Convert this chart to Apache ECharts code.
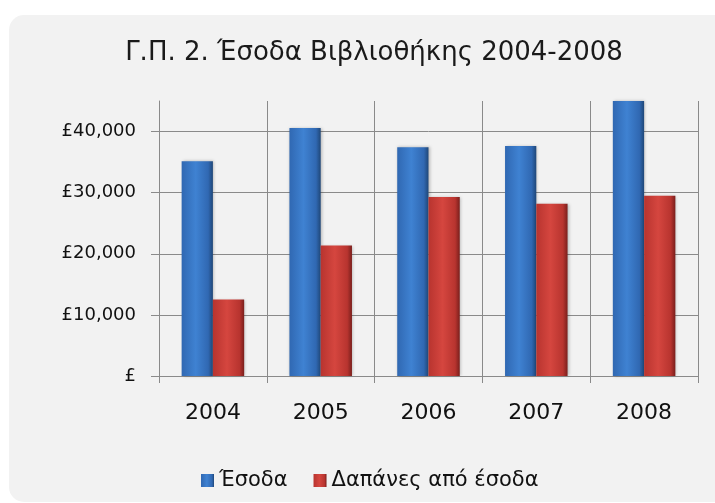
<!DOCTYPE html>
<html>
<head>
<meta charset="utf-8">
<script src="https://cdn.jsdelivr.net/npm/echarts@6/dist/echarts.min.js"></script>
<style>
  html, body { margin: 0; padding: 0; background: #ffffff; }
  .panel {
    position: absolute;
    left: 9px; top: 15px;
    width: 720px; height: 487px;
    background: #f2f2f2;
    border-radius: 15px;
  }
  #chart { position: absolute; left: 0; top: 0; width: 715px; height: 503px; }
</style>
</head>
<body>
<div class="panel"></div>
<div id="chart"></div>
<script>
// data
const years = ['2004', '2005', '2006', '2007', '2008'];
const esoda = [35150, 40600, 37450, 37650, 46000];
const dapanes = [12500, 21350, 29300, 28200, 29500];
const yTicks = [0, 10000, 20000, 30000, 40000];

const chart = echarts.init(document.getElementById('chart'));

const barGrad = (edge, mid, dark) => new echarts.graphic.LinearGradient(0, 0, 1, 0, [
  { offset: 0, color: edge },
  { offset: 0.45, color: mid },
  { offset: 0.85, color: edge },
  { offset: 1, color: dark }
]);

const blue = barGrad('#3068b2', '#3f82d2', '#1f4778');
const red = barGrad('#b8342f', '#d5463f', '#7a1f1c');

const fmtMoney = v => v === 0 ? '£' : '£' + v.toLocaleString('en-US');

chart.setOption({
  backgroundColor: 'transparent',
  animation: false,
  textStyle: { fontFamily: 'DejaVu Sans' },
  title: {
    text: 'Γ.Π. 2. Έσοδα Βιβλιοθήκης 2004-2008',
    left: 369,
    textAlign: 'center',
    top: 35,
    textStyle: { fontSize: 26, fontWeight: 'normal', color: '#1a1a1a', fontFamily: 'DejaVu Sans' }
  },
  legend: {
    top: 465,
    left: 196,
    itemWidth: 13,
    itemHeight: 13,
    itemGap: 26,
    icon: 'rect',
    textStyle: { fontSize: 21, color: '#111', fontFamily: 'DejaVu Sans' },
    data: ['Έσοδα', 'Δαπάνες από έσοδα']
  },
  grid: { left: 159, right: 17, top: 101, bottom: 127 },
  xAxis: {
    type: 'category',
    data: years,
    axisLine: { lineStyle: { color: '#8a8a8a', width: 1 } },
    axisTick: { show: true, length: 7, lineStyle: { color: '#8a8a8a' } },
    axisLabel: { fontSize: 22, color: '#111', margin: 26 },
    splitLine: { show: true, lineStyle: { color: '#8a8a8a', width: 1 } }
  },
  yAxis: {
    type: 'value',
    min: 0,
    max: 45000,
    interval: 10000,
    axisLine: { show: true, lineStyle: { color: '#8a8a8a', width: 1 } },
    axisTick: { show: true, length: 8, lineStyle: { color: '#8a8a8a' } },
    axisLabel: {
      fontSize: 18,
      color: '#111',
      margin: 23,
      showMaxLabel: false,
      formatter: v => yTicks.includes(v) ? fmtMoney(v) : ''
    },
    splitLine: { show: true, showMaxLine: false, lineStyle: { color: '#8a8a8a', width: 1 } }
  },
  series: [
    {
      name: 'Έσοδα',
      type: 'bar',
      data: esoda,
      barWidth: '29%',
      barGap: '0%',
      itemStyle: { color: blue, shadowColor: 'rgba(0,0,0,0.25)', shadowBlur: 3, shadowOffsetX: 1 }
    },
    {
      name: 'Δαπάνες από έσοδα',
      type: 'bar',
      data: dapanes,
      barWidth: '29%',
      barGap: '0%',
      itemStyle: { color: red, shadowColor: 'rgba(0,0,0,0.25)', shadowBlur: 3, shadowOffsetX: 1 }
    }
  ]
});
</script>
</body>
</html>
